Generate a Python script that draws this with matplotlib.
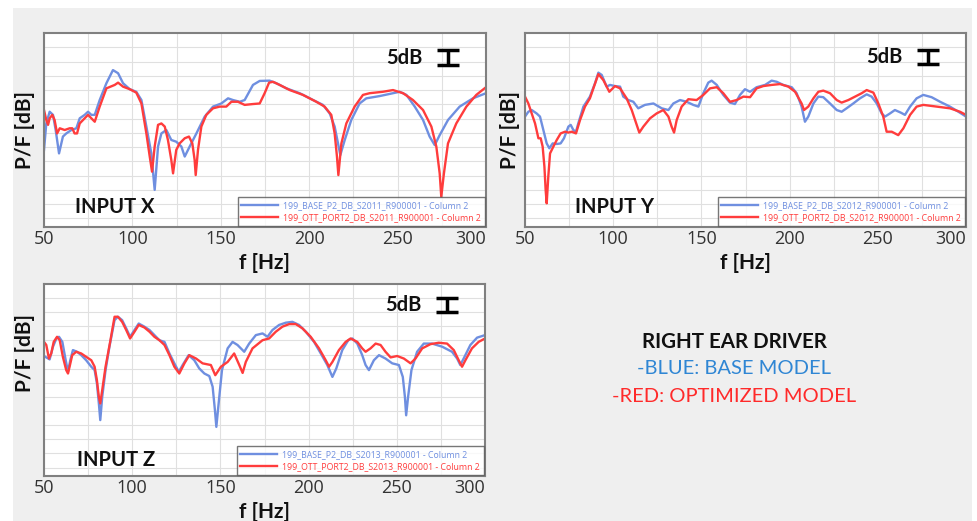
import matplotlib
matplotlib.use("Agg")
import matplotlib.pyplot as plt
from matplotlib.patches import Rectangle

plt.rcParams['font.family'] = ['Open Sans', 'DejaVu Sans']
LABEL_FONT = ['Lato', 'DejaVu Sans']

W, H = 978, 521

# ---------------- INPUT X ----------------
x_base_f = [50, 51.3, 53.2, 55.1, 56.6, 58.5, 60.7, 62.6, 65.5, 68.3, 70.2, 73.0, 74.9, 76.8, 78.7,
            81.5, 85.3, 89.0, 91.9, 94.7, 98.5, 102.2, 105.1, 107.9, 110.7, 112.6, 114.5, 116.4,
            119.2, 122.0, 124.8, 127.7, 129.6, 132.4, 136.2, 140.9, 145.6, 150.3, 154.1, 156.9,
            160.7, 163.5, 168.2, 172.0, 177.6, 181.4, 187.1, 194.6, 202.2, 207.8, 211.6, 214.4,
            216.3, 217.6, 220.1, 223.8, 228.5, 232.3, 239.9, 247.4, 251.2, 255.0, 259.7, 264.4,
            268.1, 271.0, 273.8, 278.5, 285.1, 292.6, 300]
x_base_db = [-41.0, -31.7, -27.6, -28.7, -34.0, -42.2, -36.3, -35.2, -34.0, -33.4, -29.9, -28.7,
             -27.6, -28.7, -28.7, -23.5, -17.6, -13.0, -14.1, -17.6, -19.7, -20.6, -23.5, -32.8,
             -42.2, -55.0, -39.8, -35.2, -34.0, -37.5, -38.1, -39.8, -43.3, -39.8, -35.2, -29.3,
             -25.8, -24.7, -22.9, -23.5, -24.1, -23.5, -18.2, -16.8, -16.7, -17.6, -19.4, -21.1,
             -23.5, -25.2, -28.2, -32.8, -38.7, -42.8, -37.5, -30.5, -24.7, -22.9, -22.1, -21.1,
             -20.6, -21.7, -25.8, -30.5, -36.3, -39.3, -35.8, -30.5, -25.8, -22.9, -21.1]
x_opt_f = [50, 51.3, 52.3, 53.2, 54.7, 56.0, 57.4, 58.9, 61.7, 64.5, 66.0, 67.3, 68.7, 70.2, 73.0,
           74.9, 76.8, 78.7, 81.5, 85.3, 90.0, 91.9, 94.7, 98.5, 102.2, 105.1, 107.9, 109.8,
           111.1, 112.6, 114.5, 116.4, 118.3, 120.1, 122.0, 123.0, 124.8, 126.7, 129.6, 132.0,
           133.9, 135.2, 135.8, 137.1, 139.0, 141.8, 145.6, 149.4, 153.1, 156.0, 159.7, 163.5,
           168.2, 172.0, 174.8, 177.3, 179.5, 183.3, 189.0, 196.5, 204.0, 208.7, 212.5, 214.4,
           215.7, 216.5, 218.2, 221.0, 225.7, 230.4, 234.2, 241.7, 247.4, 253.1, 258.7, 264.4,
           269.1, 271.9, 273.8, 274.7, 276.2, 278.5, 283.2, 288.9, 294.5, 300]
x_opt_db = [-27.0, -30.5, -32.2, -29.9, -28.7, -30.5, -35.2, -33.4, -34.0, -33.4, -33.4, -35.2,
            -35.2, -31.7, -29.9, -28.7, -29.9, -31.1, -25.8, -19.4, -18.2, -17.4, -18.8, -19.7,
            -20.9, -24.7, -35.2, -43.3, -48.6, -39.8, -32.2, -31.7, -32.8, -37.5, -44.5, -49.2,
            -41.0, -38.7, -36.9, -36.3, -38.7, -44.5, -49.8, -41.0, -32.8, -28.7, -26.4, -25.8,
            -25.8, -24.1, -24.1, -25.2, -24.9, -24.7, -21.1, -17.4, -17.1, -18.2, -20.0, -21.7,
            -24.1, -25.8, -28.7, -35.2, -43.3, -49.8, -38.7, -31.7, -25.8, -21.7, -21.1, -20.6,
            -20.0, -21.1, -23.5, -27.0, -32.8, -39.8, -49.2, -57.4, -49.2, -38.7, -31.7, -25.8,
            -21.7, -19.0]

# ---------------- INPUT Y ----------------
y_base_f = [50, 51.9, 53.8, 56.6, 58.5, 60.4, 62.3, 63.8, 65.7, 68.0, 70.2, 72.1, 74.6, 75.9, 77.4,
            78.9, 80.2, 83.1, 86.8, 89.7, 91.6, 93.5, 96.3, 98.2, 101.0, 103.9, 105.7, 108.6,
            111.4, 114.2, 118.0, 122.8, 127.5, 131.3, 134.1, 137.9, 141.6, 145.4, 148.3, 151.1,
            153.9, 155.8, 158.7, 162.4, 166.2, 169.0, 171.9, 174.7, 177.6, 181.3, 186.1, 189.8,
            192.7, 196.4, 201.2, 204.0, 206.8, 208.7, 210.6, 213.5, 216.3, 219.1, 222.9, 226.7,
            229.5, 232.3, 236.1, 239.9, 243.7, 246.5, 249.4, 252.2, 254.1, 256.9, 259.7, 263.0,
            265.4, 268.3, 272.0, 275.8, 280.5, 285.3, 290.9, 295.7, 300]
y_base_db = [-29.3, -27.6, -27.0, -28.2, -29.3, -34.0, -38.7, -40.4, -38.7, -38.9, -38.7, -36.9,
             -32.8, -32.2, -34.0, -34.6, -31.7, -25.8, -22.3, -17.6, -13.9, -14.7, -18.8, -18.2,
             -18.6, -18.8, -22.3, -23.5, -24.1, -26.4, -25.2, -24.7, -26.4, -27.0, -24.7, -23.5,
             -24.1, -25.2, -25.8, -21.1, -17.4, -16.7, -18.2, -21.7, -24.4, -24.9, -21.7, -19.7,
             -20.6, -19.0, -18.2, -16.7, -17.1, -18.2, -19.0, -21.1, -25.8, -31.1, -29.3, -24.7,
             -22.3, -22.5, -24.7, -27.0, -27.6, -26.4, -24.7, -22.9, -21.5, -22.3, -24.7, -28.2,
             -29.3, -28.2, -27.0, -27.9, -28.7, -25.8, -22.9, -21.7, -22.5, -24.1, -25.8, -27.6,
             -29.3]
y_opt_f = [50, 51.9, 53.8, 55.7, 57.6, 58.9, 60.0, 61.0, 61.7, 62.3, 63.2, 64.2, 66.1, 68.0, 70.2,
           72.7, 74.6, 76.5, 78.9, 81.2, 84.0, 86.8, 89.1, 91.6, 94.4, 97.8, 101.0, 103.9, 107.6,
           110.5, 112.4, 114.8, 117.1, 120.9, 124.6, 128.4, 131.3, 133.1, 134.5, 136.0, 138.8,
           142.6, 147.3, 151.1, 154.9, 158.7, 162.4, 166.2, 170.0, 173.8, 177.6, 181.3, 185.1,
           189.8, 194.6, 199.3, 203.1, 206.8, 208.2, 210.6, 213.5, 216.3, 219.1, 222.9, 226.7,
           229.5, 233.3, 237.1, 240.9, 243.7, 247.5, 250.3, 253.1, 255.0, 257.9, 261.6, 264.5,
           268.3, 272.0, 275.8, 283.4, 290.9, 296.6, 300]
y_opt_db = [-22.3, -24.7, -28.2, -31.7, -36.9, -36.9, -39.8, -46.8, -55.0, -59.7, -50.4, -42.2,
            -39.8, -37.5, -35.2, -34.6, -34.9, -34.6, -35.2, -30.5, -25.8, -22.9, -18.8, -14.4,
            -16.5, -20.6, -18.6, -19.4, -22.9, -27.0, -30.5, -34.9, -32.8, -29.9, -28.2, -27.0,
            -29.3, -32.8, -34.9, -30.5, -25.8, -23.2, -23.5, -21.7, -19.4, -19.0, -21.1, -24.1,
            -23.5, -22.3, -22.5, -19.4, -18.6, -18.2, -17.9, -18.8, -20.6, -24.7, -27.0, -25.8,
            -22.9, -20.6, -20.2, -21.1, -23.5, -24.4, -23.5, -22.3, -21.1, -20.0, -20.9, -24.7,
            -29.3, -34.6, -34.6, -35.8, -33.4, -28.7, -25.8, -25.2, -25.8, -26.4, -27.6, -28.7]

# ---------------- INPUT Z ----------------
z_base_f = [50, 51.3, 53.2, 55.1, 57.0, 58.5, 60.4, 62.3, 63.6, 64.9, 66.4, 68.7, 71.1, 73.9, 76.8,
            78.7, 80.0, 81.1, 81.9, 83.0, 84.9, 87.1, 90.0, 91.9, 94.3, 96.6, 98.8, 101.3, 103.7,
            106.9, 109.8, 112.6, 115.4, 118.3, 121.1, 123.9, 126.4, 128.6, 132.0, 135.2, 138.0,
            140.9, 143.7, 145.6, 146.9, 147.7, 149.0, 150.9, 154.1, 156.9, 159.7, 163.5, 166.3,
            170.1, 173.9, 176.7, 179.5, 183.3, 187.1, 190.8, 194.6, 198.4, 203.1, 206.9, 210.6,
            213.5, 215.7, 219.1, 222.5, 224.8, 227.6, 230.4, 232.3, 234.2, 237.0, 239.9, 243.6,
            247.4, 251.2, 253.4, 254.6, 255.3, 256.4, 258.3, 261.5, 265.3, 270.0, 275.7, 281.3,
            284.2, 286.0, 287.9, 291.7, 295.5, 300]
z_base_db = [-25.5, -26.0, -26.7, -22.2, -19.3, -18.7, -20.5, -27.0, -31.1, -27.0, -23.4, -24.0,
             -25.2, -27.0, -29.3, -30.5, -35.2, -42.3, -48.2, -40.0, -30.5, -22.2, -12.8, -11.6,
             -12.8, -15.7, -18.7, -16.3, -14.0, -15.1, -16.3, -18.1, -19.9, -20.5, -24.6, -28.1,
             -31.1, -28.7, -25.2, -27.0, -29.9, -31.7, -32.6, -36.4, -44.7, -50.6, -42.3, -30.5,
             -22.8, -20.5, -21.6, -24.0, -21.1, -18.1, -17.5, -18.7, -16.3, -14.5, -13.7, -13.4,
             -14.5, -16.9, -20.5, -24.6, -28.7, -32.9, -29.9, -23.4, -19.9, -19.3, -21.1, -25.2,
             -28.7, -30.5, -27.0, -25.2, -26.4, -28.1, -28.7, -32.9, -40.0, -46.5, -40.0, -30.5,
             -24.0, -21.1, -21.1, -22.2, -24.0, -26.4, -28.7, -26.4, -21.6, -19.0, -18.1]
z_opt_f = [50, 51.3, 52.8, 54.1, 55.5, 57.4, 58.9, 60.7, 62.6, 63.6, 64.5, 66.0, 68.3, 71.1, 73.9,
           76.8, 78.7, 80.0, 81.1, 81.9, 83.0, 84.9, 87.5, 90.0, 91.9, 94.3, 96.6, 98.8, 101.3,
           103.7, 106.9, 109.8, 112.6, 115.4, 118.3, 121.1, 123.9, 126.7, 129.6, 132.4, 136.2,
           139.9, 144.6, 147.1, 150.3, 154.1, 157.8, 160.7, 162.6, 164.4, 168.2, 173.9, 177.6,
           181.4, 185.2, 189.0, 192.7, 196.5, 201.2, 205.9, 209.7, 211.6, 213.5, 217.2, 221.0,
           223.8, 227.6, 230.4, 232.3, 235.1, 238.0, 240.8, 243.6, 246.5, 250.2, 254.0, 257.8,
           260.6, 264.4, 269.1, 273.8, 278.5, 282.3, 285.1, 287.0, 288.9, 292.6, 296.4, 300]
z_opt_db = [-20.5, -21.6, -26.4, -24.6, -20.5, -18.7, -19.9, -25.8, -30.5, -31.7, -29.3, -25.2,
            -24.0, -24.6, -25.8, -27.0, -29.3, -34.1, -40.0, -42.3, -37.6, -29.3, -20.5, -11.6,
            -11.6, -13.4, -16.3, -19.3, -16.9, -14.5, -15.4, -16.9, -18.7, -19.9, -21.6, -25.2,
            -29.3, -31.7, -28.1, -25.2, -26.4, -28.1, -28.7, -32.3, -29.3, -27.6, -24.6, -28.7,
            -31.5, -27.6, -22.8, -19.9, -19.3, -16.9, -15.1, -14.2, -14.2, -15.7, -18.7, -22.8,
            -27.0, -29.3, -27.6, -23.4, -20.5, -19.3, -20.5, -22.8, -24.0, -22.8, -21.1, -21.6,
            -24.0, -26.0, -25.5, -26.4, -28.1, -26.4, -22.8, -21.3, -20.8, -21.1, -23.4, -27.0,
            -29.3, -27.0, -22.8, -20.5, -19.3]

x_ticks = [50, 100, 150, 200, 250, 300]
scale_db = 5.0

BLUE = '#6f8fe0'
RED = '#ff3c3c'
panels = [
    dict(rect=(44, 33, 486, 227), name='INPUT X', code='S2011', base=(x_base_f, x_base_db),
         opt=(x_opt_f, x_opt_db), name_pos=(67.5, -61.0), bar_y=-8.6, ylab=(-0.02, 0.5)),
    dict(rect=(525, 33, 966, 227), name='INPUT Y', code='S2012', base=(y_base_f, y_base_db),
         opt=(y_opt_f, y_opt_db), name_pos=(78.3, -61.0), bar_y=-8.3, ylab=(-0.011, 0.5)),
    dict(rect=(44, 284, 485, 476), name='INPUT Z', code='S2013', base=(z_base_f, z_base_db),
         opt=(z_opt_f, z_opt_db), name_pos=(68.7, -62.3), bar_y=-7.4, ylab=(-0.02, 0.64)),
]

fig = plt.figure(figsize=(W / 100, H / 100), dpi=100, facecolor='white')
fig.patches.append(Rectangle((13 / W, 0), (972 - 13) / W, 1 - 8 / H, transform=fig.transFigure,
                             facecolor='#efefef', edgecolor='none', zorder=-10))

for p in panels:
    l, t, r, b = p['rect']
    ax = fig.add_axes([l / W, 1 - b / H, (r - l) / W, (b - t) / H])
    ax.set_facecolor('white')
    ax.set_xlim(50, 300)
    ax.set_ylim(-68, 0)
    ax.set_xticks(x_ticks)
    ax.set_xticks(range(75, 300, 50), minor=True)
    ax.set_yticks(range(-65, 0, 5))
    ax.grid(True, which='both', color='#e0e0e0', lw=0.8)
    ax.set_axisbelow(True)
    ax.tick_params(axis='both', which='both', length=0)
    ax.tick_params(axis='x', labelsize=13, labelcolor='#333333', pad=2)
    ax.set_yticklabels([])
    labels = ax.set_xticklabels([str(v) for v in x_ticks])
    labels[-1].set_horizontalalignment('right')
    for s in ax.spines.values():
        s.set_color('#808080')
        s.set_linewidth(1.5)

    ax.plot(*p['base'], color=BLUE, lw=1.7, solid_joinstyle='round',
            label=f"199_BASE_P2_DB_{p['code']}_R900001 - Column 2")
    ax.plot(*p['opt'], color=RED, lw=1.7, solid_joinstyle='round',
            label=f"199_OTT_PORT2_DB_{p['code']}_R900001 - Column 2")

    leg = ax.legend(loc='lower right', bbox_to_anchor=(1, 0), borderaxespad=0.15,
                    fontsize=6.3, handlelength=4.2, labelcolor='linecolor', frameon=True,
                    fancybox=False, borderpad=0.4, labelspacing=0.4, handletextpad=0.6)
    leg.get_frame().set_edgecolor('#555555')
    leg.get_frame().set_linewidth(1.0)

    ax.text(p['name_pos'][0], p['name_pos'][1], p['name'], fontsize=14.5, fontweight='bold',
            family=LABEL_FONT, color='#111111', va='center', ha='left')
    ax.text(254, p['bar_y'], '5dB', fontsize=14.5, fontweight='bold', family=LABEL_FONT,
            color='#111111', va='center', ha='center')
    ax.errorbar([278.3], [p['bar_y']], yerr=scale_db / 2, color='black', elinewidth=2.5,
                capsize=8, capthick=2.5, fmt='none')

    ax.set_xlabel('f [Hz]', fontsize=15, fontweight='bold', family=LABEL_FONT,
                  color='#111111', labelpad=4)
    ax.set_ylabel('P/F [dB]', fontsize=15, fontweight='bold', family=LABEL_FONT,
                  color='#111111')
    ax.yaxis.set_label_coords(*p['ylab'])

fig.text(734 / W, 1 - 342 / H, 'RIGHT EAR DRIVER', fontsize=14.8, fontweight='bold',
         family=LABEL_FONT, color='#111111', ha='center', va='center')
fig.text(734 / W, 1 - 368 / H, '-BLUE: BASE MODEL', fontsize=14.5, family=LABEL_FONT,
         color='#2f86d4', ha='center', va='center')
fig.text(734 / W, 1 - 397 / H, '-RED: OPTIMIZED MODEL', fontsize=14.5, family=LABEL_FONT,
         color='#ff2a2a', ha='center', va='center')

fig.savefig('out.png', dpi=100, facecolor=fig.get_facecolor())
